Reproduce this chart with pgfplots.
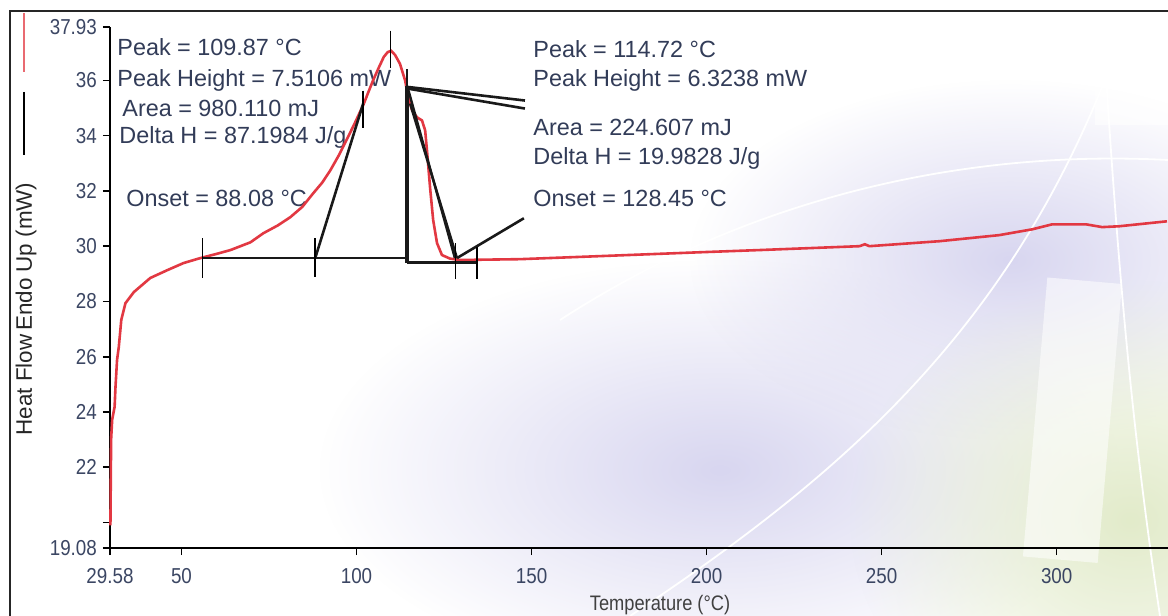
\documentclass[border=0pt]{standalone}
\usepackage{fontspec}
\setmainfont{Liberation Sans}
\usepackage{pgfplots}
\pgfplotsset{compat=1.18}
\usetikzlibrary{fadings}
\definecolor{curve}{RGB}{226,56,66}
\definecolor{tickc}{RGB}{59,70,99}
\definecolor{annc}{RGB}{50,60,88}
\definecolor{lav}{RGB}{216,214,240}
\definecolor{grn}{RGB}{226,235,202}
\tikzfading[name=soft, inner color=transparent!0, outer color=transparent!100]
\begin{document}
\begin{tikzpicture}
\useasboundingbox (0,0) rectangle (584pt,308pt);
\begin{scope}[shift={(0pt,308pt)}, x=0.5pt, y=-0.5pt]
  \fill[white] (0,0) rectangle (1168,616);
  \fill[lav, path fading=soft] (720,470) ellipse (400 and 210);
  \fill[lav, path fading=soft] (1010,260) ellipse (320 and 180);
  \fill[grn, path fading=soft] (1130,520) ellipse (280 and 240);
  \fill[white, opacity=0.55, rotate around={-5:(1070,420)}] (1035,280) rectangle (1110,560);
  \fill[white, opacity=0.6] (1095,20) rectangle (1168,125);
  \draw[white, line width=0.9pt] (630,616) .. controls (850,470) and (1020,320) .. (1120,40);
  \draw[white, line width=0.9pt] (560,320) .. controls (760,190) and (980,150) .. (1168,160);
  \draw[white, line width=0.9pt] (1105,60) .. controls (1120,300) and (1135,450) .. (1160,616);
  \draw[black!85, line width=0.9pt] (10,616) -- (10,11) -- (1168,11);
  % legend marks and y label
  \draw[curve!75, line width=1.2pt] (24,13) -- (24,72);
  \draw[black, line width=0.9pt] (24,92) -- (24,155);
  \node[rotate=90, font=\fontsize{11.2}{13}\selectfont, text=black!85] at (26,309) {Heat Flow\,Endo Up (mW)};
  \node[font=\fontsize{10.5}{12}\selectfont, xscale=0.87, text=black!75] at (660,605) {Temperature (°C)};
  % annotations
  \begin{scope}[every node/.style={anchor=west, inner sep=0pt, font=\fontsize{11.7}{14}\selectfont, text=annc}]
    \node at (117,47) {Peak = 109.87 °C};
    \node at (117,80) {Peak Height = 7.5106 mW};
    \node at (122,108) {Area = 980.110 mJ};
    \node at (119,137) {Delta H = 87.1984 J/g};
    \node at (126,198) {Onset = 88.08 °C};
    \node at (533,49) {Peak = 114.72 °C};
    \node at (533,80) {Peak Height = 6.3238 mW};
    \node at (533,127) {Area = 224.607 mJ};
    \node at (533,158) {Delta H = 19.9828 J/g};
    \node at (533,198) {Onset = 128.45 °C};
  \end{scope}
\end{scope}
\begin{axis}[
  at={(55pt,34pt)}, anchor=south west,
  scale only axis, width=529pt, height=260.5pt,
  xmin=29.58, xmax=331.8, ymin=19.08, ymax=37.93,
  axis x line=bottom, axis y line=left,
  axis line style={-, line width=0.8pt, black},
  tick align=outside, major tick length=3.5pt,
  tick style={black, line width=0.8pt},
  xtick={29.58,50,100,150,200,250,300},
  xticklabels={29.58,50,100,150,200,250,300},
  ytick={19.08,20,22,24,26,28,30,32,34,36,37.93},
  yticklabels={19.08,,22,24,26,28,30,32,34,36,37.93},
  ticklabel style={font=\fontsize{10.8}{12}\selectfont, text=tickc, xscale=0.87},
  xticklabel style={yshift=-3pt},
  clip=false,
]
\addplot[curve, line width=1.3pt] coordinates {
(29.7,19.9) (29.9,23.0) (30.2,23.72) (30.9,24.19) (31.15,24.91) (31.6,25.89)
(32.1,26.36) (32.8,27.33) (34.0,27.94) (36.4,28.34) (41.1,28.85) (45.9,29.13)
(50.6,29.39) (55.4,29.57) (60,29.72) (64.0,29.86) (69.7,30.14) (73.4,30.47)
(77.5,30.75) (81.1,31.05) (84.5,31.42) (87.6,31.91) (90.2,32.30) (92.5,32.74)
(95.0,33.30) (97.3,33.88) (99.5,34.45) (101.9,35.10) (104.7,35.99) (106.5,36.50)
(107.8,36.85) (108.9,37.02) (109.87,37.07) (111.0,36.92) (112.4,36.60) (113.9,35.99)
(114.75,35.38) (115.9,34.91) (117.3,34.66) (118.7,34.55) (119.6,34.19) (120.2,33.36)
(121.0,32.13) (121.9,30.94) (123.0,30.11) (124.4,29.68) (126.7,29.55) (129.6,29.50)
(146.7,29.53) (169.5,29.64) (198.1,29.78) (215.2,29.86) (243.7,30.00) (245.2,30.07)
(246.5,30.00) (266.5,30.18) (283.6,30.40) (293.0,30.61) (298.7,30.79) (308.4,30.79)
(313.0,30.69) (317.8,30.72) (331.5,30.90)
};
% baselines and tangents
\addplot[black!90, line width=1.4pt] coordinates {(56.0,29.57) (114.5,29.57)};
\addplot[black!90, line width=1.3pt] coordinates {(88.2,29.57) (101.9,35.16)};
\addplot[black!90, line width=1.9pt] coordinates {(114.5,29.40) (114.5,35.81)};
\addplot[black!90, line width=0.8pt] coordinates {(114.5,35.81) (114.5,36.42)};
\addplot[black!90, line width=1.3pt] coordinates {(114.7,35.76) (148.1,35.27)};
\addplot[black!90, line width=1.3pt] coordinates {(114.7,35.70) (148.1,34.98)};
\addplot[black!90, line width=1.4pt] coordinates {(114.5,29.42) (134.4,29.42)};
\addplot[black!90, line width=1.2pt] coordinates {(114.7,35.70) (128.1,29.57)};
\addplot[black!90, line width=1.2pt] coordinates {(115.3,35.16) (128.7,29.57)};
\addplot[black!90, line width=1.3pt] coordinates {(128.7,29.57) (147.8,31.01)};
% tick marks
\addplot[black, line width=0.8pt] coordinates {(56.0,30.29) (56.0,28.85)};
\addplot[black, line width=0.8pt] coordinates {(88.2,30.29) (88.2,28.88)};
\addplot[black, line width=0.8pt] coordinates {(101.9,35.63) (101.9,34.29)};
\addplot[black, line width=0.8pt] coordinates {(109.7,37.80) (109.7,36.46)};
\addplot[black, line width=0.8pt] coordinates {(128.3,30.10) (128.3,28.80)};
\addplot[black, line width=0.8pt] coordinates {(134.4,29.96) (134.4,28.80)};
\end{axis}
\end{tikzpicture}
\end{document}
